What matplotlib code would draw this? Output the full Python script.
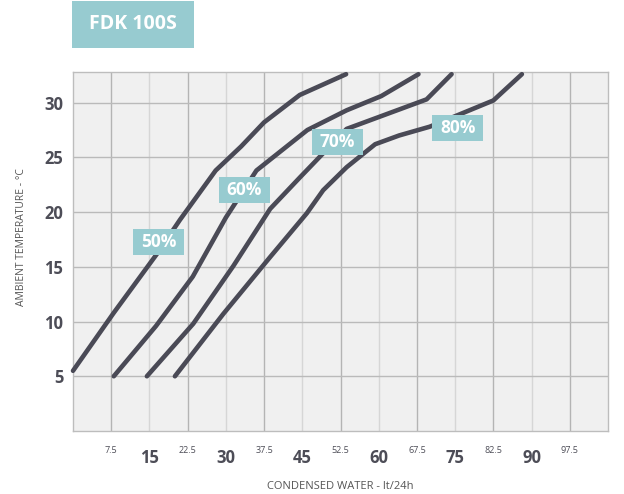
import matplotlib.pyplot as plt
from matplotlib.patches import Rectangle

# condensed water (lt/24h) vs ambient temperature (°C)
rh50_x = [0, 8, 16.5, 21, 28, 33, 37.5, 44.5, 53.6]
rh50_y = [5.5, 10.8, 16.2, 19.3, 23.8, 26.0, 28.2, 30.7, 32.6]

rh60_x = [8, 16.3, 23.5, 30, 36, 46, 53.7, 60.5, 67.8]
rh60_y = [5, 9.6, 14.1, 19.5, 23.8, 27.5, 29.3, 30.6, 32.6]

rh70_x = [14.5, 23.6, 31.5, 38.7, 44.6, 53.7, 69.4, 74.3]
rh70_y = [5, 9.8, 15.1, 20.3, 23.2, 27.6, 30.3, 32.6]

rh80_x = [20, 29.5, 38.7, 45.9, 49.1, 53.7, 59.3, 64, 70, 82.5, 88.1]
rh80_y = [5, 10.7, 15.9, 19.9, 22.0, 24.1, 26.2, 27.0, 27.8, 30.2, 32.6]

curve_labels = ['50%', '60%', '70%', '80%']
label_x = [16.8, 33.6, 51.9, 75.5]
label_y = [17.3, 22.0, 26.4, 27.7]

x_major = [15, 30, 45, 60, 75, 90]
x_minor = [7.5, 22.5, 37.5, 52.5, 67.5, 82.5, 97.5]
y_ticks = [5, 10, 15, 20, 25, 30]

LINE = '#4a4a56'
TEAL = '#97cbd0'
TXT = '#4d4d57'
BOX_W, BOX_H = 10.0, 2.37   # label badge size in data units (~51x26 px)

plt.rcParams['font.family'] = ['Open Sans', 'DejaVu Sans']

fig = plt.figure(figsize=(6.24, 4.94), dpi=100)
ax = fig.add_axes([73 / 624, 1 - 431 / 494, 535 / 624, 359 / 494])
ax.set_facecolor('#f0f0f0')
ax.set_xlim(0, 105)
ax.set_ylim(0, 32.8)

ax.set_xticks(x_major)
ax.set_xticks(x_minor, minor=True)
ax.set_xticklabels([str(v) for v in x_major], fontsize=12, fontweight='bold', color=TXT)
ax.set_xticklabels([str(v) for v in x_minor], minor=True, fontsize=6.5, color=TXT)
ax.set_yticks(y_ticks)
ax.set_yticklabels([str(v) for v in y_ticks], fontsize=12, fontweight='bold', color=TXT)
ax.tick_params(axis='x', which='major', length=0, pad=13)
ax.tick_params(axis='x', which='minor', length=0, pad=11)
ax.tick_params(axis='y', length=0, pad=7)

ax.grid(True, axis='x', which='major', color='#d6d6d6', linewidth=1)
ax.grid(True, axis='x', which='minor', color='#b4b4b4', linewidth=1)
ax.grid(True, axis='y', which='major', color='#bababa', linewidth=1)
ax.set_axisbelow(True)
for s in ax.spines.values():
    s.set_color('#bdbdbd')
    s.set_linewidth(1)

for xs, ys in [(rh50_x, rh50_y), (rh60_x, rh60_y), (rh70_x, rh70_y), (rh80_x, rh80_y)]:
    ax.plot(xs, ys, color=LINE, linewidth=3.3, solid_capstyle='round',
            solid_joinstyle='round', clip_on=False, zorder=3)

for lab, lx, ly in zip(curve_labels, label_x, label_y):
    ax.add_patch(Rectangle((lx - BOX_W / 2, ly - BOX_H / 2), BOX_W, BOX_H,
                           facecolor=TEAL, edgecolor='none', zorder=4))
    ax.text(lx, ly, lab, ha='center', va='center', fontsize=12.5, fontweight='bold',
            color='white', zorder=5)

ax.set_xlabel('CONDENSED WATER - lt/24h', fontsize=8, color='#555555', labelpad=10,
              family=['Liberation Sans Narrow', 'Open Sans', 'DejaVu Sans'])
fig.text(22 / 624, 1 - 237 / 494, 'AMBIENT TEMPERATURE - °C', rotation=90,
         ha='center', va='center', fontsize=7.5, color='#555555',
         family=['Liberation Sans Narrow', 'Open Sans', 'DejaVu Sans'])

# title badge
fig.patches.append(Rectangle((72 / 624, 1 - 48 / 494), 122 / 624, 47 / 494,
                             transform=fig.transFigure, facecolor=TEAL,
                             edgecolor='none'))
fig.text(133 / 624, 1 - 24 / 494, 'FDK 100S', ha='center', va='center',
         fontsize=14, fontweight='bold', color='white')

fig.savefig('out.png', dpi=100)
